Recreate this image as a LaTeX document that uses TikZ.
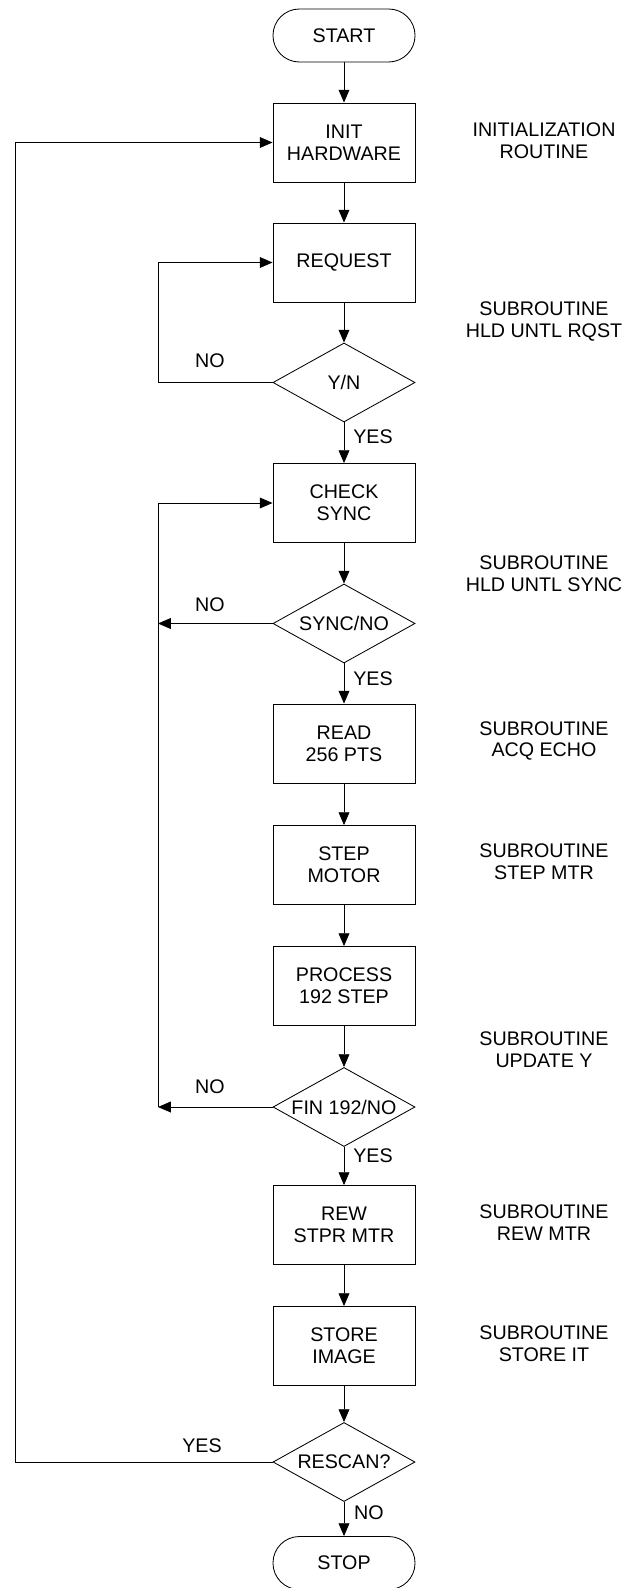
\documentclass[tikz,border=0pt]{standalone}
\usepackage{fontspec}
\setmainfont{Liberation Sans}
\usetikzlibrary{arrows.meta,shapes.geometric}

\begin{document}
\begin{tikzpicture}[
      x=0.025cm, y=-0.025cm,
      >={Triangle[length=3.2mm,width=2.7mm]},
      font=\fontsize{14}{15.6}\selectfont,
      line width=0.6pt,
      term/.style ={rectangle, rounded corners=0.66cm, draw, align=center,
                    minimum width=3.55cm, minimum height=1.325cm, inner sep=0pt},
      box/.style  ={rectangle, draw, align=center, minimum width=3.55cm,
                    minimum height=1.975cm, inner sep=0pt},
      dec/.style  ={diamond, draw, aspect=1.8, minimum width=3.55cm,
                    minimum height=1.975cm, inner sep=0pt},
      note/.style ={align=center, inner sep=0pt},
      lbl/.style  ={inner sep=0pt},
      flow/.style ={->}
    ]
    \useasboundingbox (0,0) rectangle (626,1588);
    % --- main column ---
    \node[term] (start)  at (344,35.5)  {START};
    \node[box]  (init)   at (344,142.5) {INIT\\HARDWARE};
    \node[box]  (req)    at (344,262.5) {REQUEST};
    \node[dec]  (yn)     at (344,382.5) {Y/N};
    \node[box]  (chk)    at (344,503)   {CHECK\\SYNC};
    \node[dec]  (sync)   at (344,623.5) {SYNC/NO};
    \node[box]  (read)   at (344,743.5) {READ\\256 PTS};
    \node[box]  (stepm)  at (344,865)   {STEP\\MOTOR};
    \node[box]  (proc)   at (344,986)   {PROCESS\\192 STEP};
    \node[dec]  (fin)    at (344,1107)  {FIN 192/NO};
    \node[box]  (rew)    at (344,1225)  {REW\\STPR MTR};
    \node[box]  (store)  at (344,1346)  {STORE\\IMAGE};
    \node[dec]  (rescan) at (344,1462)  {RESCAN?};
    \node[term] (stop)   at (344,1563)  {STOP};
    % --- notes on the right ---
    \node[note] (n1) at (544,141)   {INITIALIZATION\\ROUTINE};
    \node[note] (n2) at (544,321.5) {SUBROUTINE\\HLD UNTL RQST};
    \node[note] (n3) at (544,574)   {SUBROUTINE\\HLD UNTL SYNC};
    \node[note] (n4) at (544,741)   {SUBROUTINE\\ACQ ECHO};
    \node[note] (n5) at (544,862)   {SUBROUTINE\\STEP MTR};
    \node[note] (n6) at (544,1050)  {SUBROUTINE\\UPDATE Y};
    \node[note] (n7) at (544,1223)  {SUBROUTINE\\REW MTR};
    \node[note] (n8) at (544,1344)  {SUBROUTINE\\STORE IT};
    % --- branch labels ---
    \node[lbl] (no1)  at (210,361)  {NO};
    \node[lbl] (yes1) at (373,437)  {YES};
    \node[lbl] (no2)  at (210,605)  {NO};
    \node[lbl] (yes2) at (373,679)  {YES};
    \node[lbl] (no3)  at (210,1087) {NO};
    \node[lbl] (yes3) at (373,1156) {YES};
    \node[lbl] (yes4) at (202,1446) {YES};
    \node[lbl] (no4)  at (369,1513) {NO};
    % --- loop columns ---
    \coordinate (inner) at (158,0);
    \coordinate (outer) at (15,0);
    % --- arrows ---
    \draw[flow] (start) -- (init);
    \draw[flow] (init) -- (req);
    \draw[flow] (req) -- (yn);
    \draw[flow] (yn) -- (chk);
    \draw[flow] (chk) -- (sync);
    \draw[flow] (sync) -- (read);
    \draw[flow] (read) -- (stepm);
    \draw[flow] (stepm) -- (proc);
    \draw[flow] (proc) -- (fin);
    \draw[flow] (fin) -- (rew);
    \draw[flow] (rew) -- (store);
    \draw[flow] (store) -- (rescan);
    \draw[flow] (rescan) -- (stop);
    \draw[flow] (yn.west) -- (yn.west -| inner) |- (req.west);
    \draw[flow] (sync.west) -- (sync.west -| inner);
    \draw[flow] (fin.west) -- (fin.west -| inner);
    \draw[flow] (fin.west -| inner) |- (chk.west);
    \draw[flow] (rescan.west) -- (rescan.west -| outer) |- (init.west);
  \end{tikzpicture}
\end{document}
